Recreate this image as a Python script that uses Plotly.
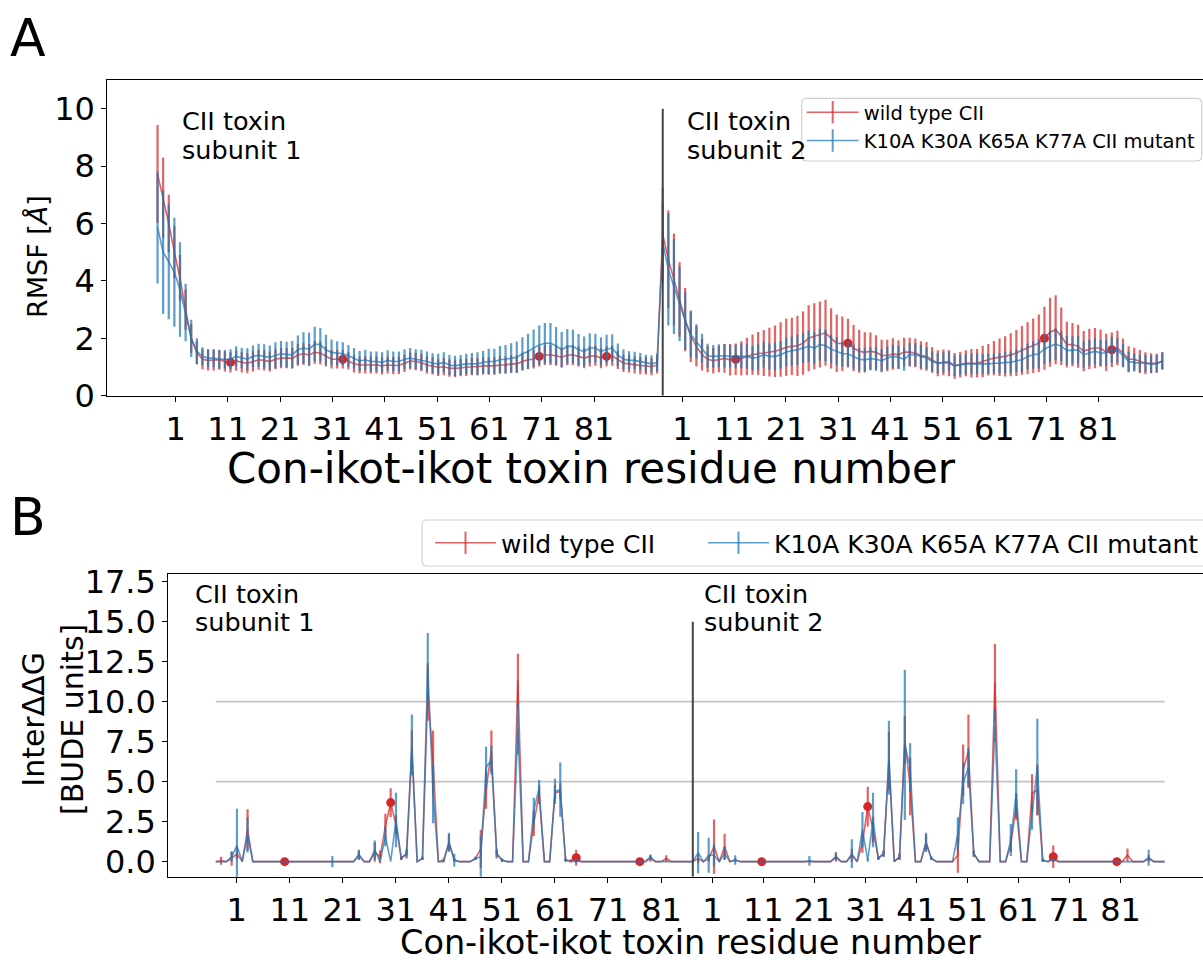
import plotly.graph_objects as go

# Residue numbering of one toxin subunit (-3 .. 86), two subunits plotted back to back
RESIDUES = list(range(-3, 87))
N_RES = len(RESIDUES)
mutation_sites = [10, 30, 65, 77]
residue_tick_labels = ["1", "11", "21", "31", "41", "51", "61", "71", "81"]

# ---------------- RMSF (A) ----------------
rmsf_wt_sub1 = [
    7.73, 6.90, 6.00, 5.00, 4.10, 3.00, 2.00, 1.50, 1.27, 1.23,
    1.23, 1.25, 1.19, 1.16, 1.22, 1.16, 1.13, 1.19, 1.25, 1.23,
    1.19, 1.27, 1.31, 1.31, 1.31, 1.42, 1.46, 1.42, 1.51, 1.49,
    1.37, 1.27, 1.27, 1.27, 1.21, 1.11, 1.07, 1.07, 1.07, 1.07,
    1.04, 1.07, 1.05, 1.06, 1.13, 1.21, 1.19, 1.15, 1.07, 1.04,
    0.99, 1.01, 0.96, 0.95, 0.98, 0.99, 1.01, 1.01, 1.04, 1.04,
    1.04, 1.07, 1.07, 1.11, 1.11, 1.19, 1.25, 1.27, 1.37, 1.42,
    1.42, 1.39, 1.34, 1.42, 1.42, 1.37, 1.31, 1.37, 1.39, 1.31,
    1.37, 1.39, 1.25, 1.13, 1.11, 1.07, 1.05, 1.04, 1.01, 1.07]
rmsf_wt_err_sub1 = [
    1.70, 1.40, 1.00, 0.90, 0.80, 0.70, 0.50, 0.40, 0.35, 0.35,
    0.35, 0.35, 0.35, 0.35, 0.35, 0.35, 0.35, 0.35, 0.35, 0.35,
    0.35, 0.35, 0.35, 0.35, 0.35, 0.38, 0.38, 0.38, 0.40, 0.40,
    0.35, 0.32, 0.32, 0.32, 0.30, 0.30, 0.30, 0.30, 0.30, 0.30,
    0.30, 0.30, 0.30, 0.30, 0.30, 0.30, 0.30, 0.30, 0.30, 0.30,
    0.30, 0.30, 0.30, 0.30, 0.30, 0.30, 0.30, 0.30, 0.30, 0.30,
    0.30, 0.30, 0.30, 0.30, 0.30, 0.30, 0.32, 0.32, 0.35, 0.35,
    0.35, 0.35, 0.35, 0.35, 0.35, 0.35, 0.35, 0.35, 0.35, 0.35,
    0.35, 0.35, 0.32, 0.30, 0.30, 0.30, 0.30, 0.30, 0.30, 0.30]
rmsf_mut_sub1 = [
    5.86, 5.00, 4.66, 4.30, 3.70, 2.90, 2.00, 1.55, 1.37, 1.31,
    1.31, 1.27, 1.27, 1.27, 1.37, 1.31, 1.27, 1.37, 1.41, 1.37,
    1.33, 1.41, 1.46, 1.43, 1.43, 1.60, 1.66, 1.62, 1.80, 1.78,
    1.60, 1.51, 1.48, 1.46, 1.39, 1.31, 1.21, 1.25, 1.19, 1.19,
    1.16, 1.23, 1.19, 1.19, 1.27, 1.31, 1.27, 1.25, 1.19, 1.13,
    1.11, 1.16, 1.07, 1.04, 1.07, 1.11, 1.11, 1.11, 1.16, 1.19,
    1.19, 1.25, 1.27, 1.31, 1.34, 1.46, 1.54, 1.66, 1.77, 1.83,
    1.83, 1.74, 1.60, 1.72, 1.72, 1.60, 1.54, 1.66, 1.66, 1.54,
    1.62, 1.66, 1.42, 1.27, 1.23, 1.23, 1.19, 1.13, 1.11, 1.16]
rmsf_mut_err_sub1 = [
    1.95, 2.15, 2.00, 1.90, 1.65, 1.00, 0.65, 0.45, 0.32, 0.32,
    0.32, 0.32, 0.32, 0.35, 0.35, 0.35, 0.38, 0.38, 0.40, 0.42,
    0.42, 0.45, 0.45, 0.45, 0.48, 0.50, 0.55, 0.58, 0.60, 0.58,
    0.52, 0.45, 0.42, 0.40, 0.38, 0.35, 0.35, 0.35, 0.35, 0.35,
    0.35, 0.35, 0.35, 0.35, 0.35, 0.35, 0.35, 0.35, 0.35, 0.35,
    0.35, 0.35, 0.35, 0.35, 0.35, 0.35, 0.38, 0.40, 0.40, 0.45,
    0.45, 0.48, 0.50, 0.52, 0.55, 0.58, 0.62, 0.65, 0.68, 0.70,
    0.70, 0.65, 0.62, 0.60, 0.58, 0.55, 0.52, 0.52, 0.50, 0.50,
    0.50, 0.48, 0.40, 0.35, 0.32, 0.30, 0.30, 0.30, 0.30, 0.30]
rmsf_wt_sub2 = [
    5.63, 4.75, 4.05, 3.35, 2.65, 2.07, 1.72, 1.43, 1.27, 1.22,
    1.27, 1.30, 1.25, 1.27, 1.30, 1.37, 1.43, 1.47, 1.49, 1.52,
    1.55, 1.61, 1.69, 1.72, 1.74, 1.83, 2.00, 2.07, 2.13, 2.19,
    2.00, 1.83, 1.81, 1.83, 1.66, 1.55, 1.51, 1.55, 1.51, 1.40,
    1.40, 1.45, 1.43, 1.52, 1.52, 1.49, 1.40, 1.37, 1.25, 1.13,
    1.16, 1.13, 1.04, 1.08, 1.13, 1.13, 1.13, 1.19, 1.25, 1.31,
    1.34, 1.37, 1.43, 1.49, 1.58, 1.66, 1.74, 1.83, 2.00, 2.21,
    2.30, 2.07, 1.78, 1.78, 1.72, 1.55, 1.63, 1.66, 1.66, 1.51,
    1.60, 1.66, 1.49, 1.27, 1.27, 1.19, 1.13, 1.13, 1.13, 1.21]
rmsf_wt_err_sub2 = [
    1.60, 1.70, 1.60, 1.30, 1.10, 0.90, 0.70, 0.55, 0.45, 0.45,
    0.45, 0.50, 0.55, 0.55, 0.60, 0.65, 0.70, 0.75, 0.80, 0.85,
    0.90, 0.95, 1.00, 1.00, 1.05, 1.10, 1.15, 1.15, 1.15, 1.15,
    1.05, 1.00, 0.95, 0.85, 0.80, 0.75, 0.70, 0.65, 0.60, 0.55,
    0.55, 0.55, 0.50, 0.50, 0.50, 0.50, 0.50, 0.50, 0.45, 0.45,
    0.45, 0.45, 0.45, 0.45, 0.45, 0.50, 0.50, 0.55, 0.55, 0.60,
    0.65, 0.70, 0.75, 0.80, 0.85, 0.90, 0.95, 1.00, 1.10, 1.20,
    1.20, 1.00, 0.80, 0.75, 0.75, 0.70, 0.70, 0.70, 0.65, 0.65,
    0.60, 0.60, 0.50, 0.45, 0.40, 0.40, 0.38, 0.35, 0.33, 0.30]
rmsf_mut_sub2 = [
    5.34, 4.40, 3.80, 3.20, 2.60, 2.13, 1.89, 1.66, 1.39, 1.37,
    1.39, 1.39, 1.37, 1.37, 1.39, 1.37, 1.31, 1.34, 1.43, 1.37,
    1.37, 1.43, 1.52, 1.55, 1.60, 1.66, 1.72, 1.66, 1.78, 1.75,
    1.62, 1.55, 1.46, 1.46, 1.37, 1.27, 1.25, 1.29, 1.27, 1.22,
    1.31, 1.37, 1.34, 1.27, 1.43, 1.43, 1.37, 1.31, 1.19, 1.13,
    1.16, 1.19, 1.04, 1.07, 1.11, 1.11, 1.11, 1.10, 1.11, 1.13,
    1.13, 1.16, 1.16, 1.22, 1.25, 1.37, 1.43, 1.46, 1.63, 1.72,
    1.80, 1.72, 1.58, 1.58, 1.60, 1.43, 1.49, 1.55, 1.49, 1.49,
    1.60, 1.58, 1.40, 1.19, 1.16, 1.13, 1.13, 1.10, 1.11, 1.21]
rmsf_mut_err_sub2 = [
    1.40, 1.95, 1.65, 1.30, 1.00, 0.80, 0.60, 0.50, 0.42, 0.40,
    0.40, 0.40, 0.40, 0.40, 0.42, 0.42, 0.42, 0.45, 0.45, 0.45,
    0.48, 0.48, 0.50, 0.50, 0.52, 0.52, 0.55, 0.55, 0.55, 0.55,
    0.50, 0.48, 0.45, 0.45, 0.42, 0.40, 0.40, 0.40, 0.40, 0.40,
    0.40, 0.40, 0.40, 0.40, 0.40, 0.40, 0.40, 0.38, 0.35, 0.35,
    0.35, 0.35, 0.35, 0.35, 0.35, 0.35, 0.35, 0.35, 0.35, 0.35,
    0.35, 0.38, 0.38, 0.40, 0.42, 0.45, 0.48, 0.50, 0.52, 0.55,
    0.55, 0.52, 0.50, 0.48, 0.48, 0.45, 0.45, 0.45, 0.45, 0.45,
    0.45, 0.42, 0.40, 0.35, 0.32, 0.30, 0.30, 0.30, 0.30, 0.30]

# ---------------- Inter ddG (B) ----------------
ddg_wt_sub1 = [
    0, 0.05, 0, 0.2, 0.5, 0, 1.98, 0, 0, 0,
    0, 0, 0, 0, 0, 0, 0, 0, 0, 0,
    0, 0, 0, 0, 0, 0, 0, 0.4, 0, 0,
    0.6, 0.3, 2.2, 3.69, 2.3, 0.2, 0.5, 7.0, 0, 0.2,
    10.6, 6.2, 0, 0.1, 1.2, 0.1, 0, 0, 0, 0.2,
    0.8, 4.5, 6.9, 0.5, 0.1, 0, 0, 11.3, 0, 0,
    2.4, 4.2, 0, 0, 4.3, 4.4, 0.1, 0.05, 0.25, 0,
    0, 0, 0, 0, 0, 0, 0, 0, 0, 0,
    0, 0, 0.2, 0, 0, 0.2, 0, 0, 0, 0]
ddg_wt_err_sub1 = [
    0, 0.25, 0, 0.45, 0.35, 0, 1.3, 0, 0, 0,
    0, 0, 0, 0, 0, 0, 0, 0, 0, 0,
    0, 0, 0, 0, 0, 0, 0, 0.3, 0, 0,
    0.6, 0.4, 0.8, 0.9, 0.6, 0.1, 0.3, 1.2, 0, 0.1,
    1.8, 2.0, 0, 0.1, 0.5, 0.1, 0, 0, 0, 0.1,
    1.2, 1.2, 1.3, 0.3, 0.1, 0, 0, 1.7, 0, 0,
    0.8, 0.6, 0, 0, 0.5, 0.5, 0.1, 0.1, 0.5, 0,
    0, 0, 0, 0, 0, 0, 0, 0, 0, 0,
    0, 0, 0.2, 0, 0, 0.2, 0, 0, 0, 0]
ddg_mut_sub1 = [
    0, 0, 0, 0.3, 1.0, 0, 1.67, 0, 0, 0,
    0, 0, 0, 0, 0, 0, 0, 0, 0, 0,
    0, 0, 0, 0, 0, 0, 0, 0.45, 0, 0,
    0.73, 0, 1.56, 0, 2.6, 0.2, 0.5, 7.3, 0, 0.2,
    12.2, 4.2, 0, 0, 1.2, 0.1, 0, 0, 0, 0.2,
    0.3, 5.9, 6.35, 0.5, 0.1, 0, 0, 8.3, 0, 0,
    3.2, 4.6, 0, 0, 4.4, 4.5, 0.1, 0, 0.05, 0,
    0, 0, 0, 0, 0, 0, 0, 0, 0, 0,
    0, 0, 0.3, 0, 0, 0, 0, 0, 0, 0]
ddg_mut_err_sub1 = [
    0, 0, 0, 0.3, 2.3, 0, 1.1, 0, 0, 0,
    0, 0, 0, 0, 0, 0, 0, 0, 0, 0,
    0, 0, 0.35, 0, 0, 0, 0, 0.3, 0, 0,
    0.6, 0, 0.6, 0, 1.7, 0.1, 0.2, 1.9, 0, 0.1,
    2.1, 1.8, 0, 0, 0.6, 0.4, 0, 0, 0, 0.1,
    1.3, 1.3, 0.9, 0.2, 0.1, 0, 0, 1.6, 0, 0,
    0.8, 0.5, 0, 0, 0.8, 1.7, 0.1, 0, 0.1, 0,
    0, 0, 0, 0, 0, 0, 0, 0, 0, 0,
    0, 0, 0.15, 0, 0, 0, 0, 0, 0, 0]
ddg_wt_sub2 = [
    0, 0.2, 0, 0.2, 0.94, 0, 0.94, 0, 0.1, 0,
    0, 0, 0, 0, 0, 0, 0, 0, 0, 0,
    0, 0, 0, 0, 0, 0, 0, 0.3, 0, 0,
    0.4, 0, 1.15, 3.44, 2.0, 0.2, 0.5, 6.3, 0, 0.3,
    7.6, 4.7, 0, 0, 1.2, 0.2, 0, 0, 0, 0,
    0.4, 5.73, 6.9, 0.5, 0, 0, 0, 11.2, 0, 0,
    1.1, 3.44, 0, 0, 4.27, 4.48, 0.1, 0, 0.31, 0,
    0, 0, 0, 0, 0, 0, 0, 0, 0, 0,
    0, 0, 0.42, 0, 0, 0, 0.2, 0, 0, 0]
ddg_wt_err_sub2 = [
    0, 0.3, 0, 0.2, 1.7, 0, 0.8, 0, 0.1, 0,
    0, 0, 0, 0, 0, 0, 0, 0, 0, 0,
    0, 0, 0, 0, 0, 0, 0, 0.3, 0, 0,
    0.4, 0, 0.6, 1.25, 0.8, 0.1, 0.2, 1.8, 0, 0.2,
    1.5, 1.8, 0, 0, 0.5, 0.1, 0, 0, 0, 0,
    1.1, 1.6, 2.3, 0.2, 0, 0, 0, 2.4, 0, 0,
    0.5, 0.8, 0, 0, 1.2, 1.6, 0.1, 0, 0.7, 0,
    0, 0, 0, 0, 0, 0, 0, 0, 0, 0,
    0, 0, 0.4, 0, 0, 0, 0.2, 0, 0, 0]
ddg_mut_sub2 = [
    0, 0.56, 0, 0.4, 0.4, 0, 0.5, 0, 0.1, 0,
    0, 0, 0, 0, 0, 0, 0, 0, 0, 0,
    0, 0, 0.05, 0, 0, 0, 0, 0.3, 0, 0,
    0.5, 0, 2.0, 0.1, 2.6, 0.2, 0.5, 6.5, 0, 0.3,
    7.3, 5.9, 0, 0, 1.2, 0.2, 0, 0, 0, 0,
    1.77, 4.9, 5.9, 0.5, 0, 0, 0, 8.5, 0, 0,
    1.35, 4.27, 0, 0, 2.8, 5.94, 0.1, 0, 0.1, 0,
    0, 0, 0, 0, 0, 0, 0, 0, 0, 0,
    0, 0, 0, 0, 0, 0, 0.25, 0, 0, 0]
ddg_mut_err_sub2 = [
    0, 1.3, 0, 1.1, 0.7, 0, 0.4, 0, 0.3, 0,
    0, 0, 0, 0, 0, 0, 0, 0, 0, 0,
    0, 0, 0.3, 0, 0, 0, 0, 0.2, 0, 0,
    0.9, 0, 1.1, 0.1, 1.7, 0.1, 0.2, 2.3, 0, 0.2,
    4.7, 1.5, 0, 0, 0.6, 0.1, 0, 0, 0, 0,
    1.0, 1.3, 1.2, 0.2, 0, 0, 0, 1.0, 0, 0,
    1.0, 1.5, 0, 0, 0.8, 3.0, 0.1, 0, 0.1, 0,
    0, 0, 0, 0, 0, 0, 0, 0, 0, 0,
    0, 0, 0, 0, 0, 0, 0.5, 0, 0, 0]

# ---------------- styling ----------------
W, H = 1203, 964
FONT = "DejaVu Sans"
RED = "rgba(214,39,40,0.72)"
BLUE = "rgba(31,119,180,0.72)"
DOT = "#d62728"
WT_NAME = "wild type CII"
MUT_NAME = "K10A K30A K65A K77A CII mutant"


def px_x(p):
    return p / W


def px_y(p):
    return 1 - p / H


def positions(subunit):
    return [r - RESIDUES[0] + N_RES * subunit for r in RESIDUES]


x_all = positions(0) + positions(1)
boundary = N_RES  # first position of subunit 2

fig = go.Figure()


def add_panel(xa, ya, wt, wt_err, mut, mut_err, legends):
    fig.add_trace(go.Scatter(
        x=x_all, y=wt, mode="lines", xaxis=xa, yaxis=ya, showlegend=False,
        line=dict(color=RED, width=1.6),
        error_y=dict(type="data", array=wt_err, color=RED, thickness=2.2, width=0)))
    site_x, site_y = [], []
    for s in (0, 1):
        for r in mutation_sites:
            p = r - RESIDUES[0] + N_RES * s
            site_x.append(p)
            site_y.append(wt[p])
    fig.add_trace(go.Scatter(
        x=site_x, y=site_y, mode="markers", xaxis=xa, yaxis=ya, showlegend=False,
        marker=dict(color=DOT, size=9)))
    fig.add_trace(go.Scatter(
        x=x_all, y=mut, mode="lines", xaxis=xa, yaxis=ya, showlegend=False,
        line=dict(color=BLUE, width=1.6),
        error_y=dict(type="data", array=mut_err, color=BLUE, thickness=2.2, width=0)))
    for (name, col), lg in zip(((WT_NAME, RED), (MUT_NAME, BLUE)), legends):
        fig.add_trace(go.Scatter(
            x=[None], y=[None], mode="lines+markers", name=name, xaxis=xa, yaxis=ya,
            legend=lg, line=dict(color=col, width=1.6),
            marker=dict(symbol="line-ns", size=22, line=dict(color=col, width=2))))


add_panel("x", "y",
          rmsf_wt_sub1 + rmsf_wt_sub2, rmsf_wt_err_sub1 + rmsf_wt_err_sub2,
          rmsf_mut_sub1 + rmsf_mut_sub2, rmsf_mut_err_sub1 + rmsf_mut_err_sub2,
          ("legend", "legend"))
add_panel("x2", "y2",
          ddg_wt_sub1 + ddg_wt_sub2, ddg_wt_err_sub1 + ddg_wt_err_sub2,
          ddg_mut_sub1 + ddg_mut_sub2, ddg_mut_err_sub1 + ddg_mut_err_sub2,
          ("legend2", "legend3"))

# tick positions along the concatenated residue axis
ticks_a = [3.24, 12.50, 21.82, 31.14, 40.47, 49.79, 59.11, 68.44, 77.76,
           93.49, 102.75, 111.96, 121.28, 130.54, 139.81, 149.07, 158.34, 167.60]
ticks_b = [3.96, 13.96, 23.96, 33.96, 43.96, 53.96, 64.0, 74.0, 84.1,
           93.7, 103.3, 112.9, 122.6, 132.2, 141.8, 151.4, 161.0, 170.7]
tick_text = residue_tick_labels + residue_tick_labels

X_RANGE = [-8.95, 186.25]
TICK_FONT = dict(family=FONT, size=32, color="black")
axis_common = dict(showline=True, linecolor="black", linewidth=1, ticks="outside",
                   ticklen=5, tickwidth=1, tickcolor="black", showgrid=False,
                   zeroline=False, tickfont=TICK_FONT, automargin=False)
legend_common = dict(bgcolor="rgba(0,0,0,0)", borderwidth=0, tracegroupgap=0)

fig.update_layout(
    width=W, height=H,
    margin=dict(l=0, r=0, t=0, b=0, autoexpand=False),
    paper_bgcolor="white", plot_bgcolor="white",
    font=dict(family=FONT, color="black"),
    xaxis=dict(domain=[px_x(107.3), 1], anchor="y", range=X_RANGE, mirror=True,
               tickmode="array", tickvals=ticks_a, ticktext=tick_text, **axis_common),
    yaxis=dict(domain=[px_y(395.7), px_y(80)], anchor="x", range=[0, 11],
               tickmode="array", tickvals=[0, 2, 4, 6, 8, 10], **axis_common),
    xaxis2=dict(domain=[px_x(168.3), 1], anchor="y2", range=X_RANGE, mirror=True,
                tickmode="array", tickvals=ticks_b, ticktext=tick_text, **axis_common),
    yaxis2=dict(domain=[px_y(876.7), px_y(574)], anchor="x2", range=[-0.94, 17.98],
                tickmode="array", tickvals=[0, 2.5, 5, 7.5, 10, 12.5, 15, 17.5],
                ticktext=["0.0", "2.5", "5.0", "7.5", "10.0", "12.5", "15.0", "17.5"],
                **axis_common),
    legend=dict(x=px_x(801.7), y=px_y(93), xanchor="left", yanchor="top",
                font=dict(family=FONT, size=19.5), itemwidth=52, **legend_common),
    legend2=dict(x=px_x(430), y=px_y(543), xanchor="left", yanchor="middle",
                 font=dict(family=FONT, size=25), itemwidth=61, **legend_common),
    legend3=dict(x=px_x(703), y=px_y(543), xanchor="left", yanchor="middle",
                 font=dict(family=FONT, size=25), itemwidth=61, **legend_common),
    showlegend=True,
)


def rounded_box(x0, y0, x1, y1, r=5):
    """Rounded rectangle path in paper units from pixel corners (top-left, bottom-right)."""
    rx, ry = r / W, r / H
    a, b, c, d = px_x(x0), px_y(y1), px_x(x1), px_y(y0)
    return (f"M {a + rx},{b} L {c - rx},{b} Q {c},{b} {c},{b + ry} "
            f"L {c},{d - ry} Q {c},{d} {c - rx},{d} L {a + rx},{d} "
            f"Q {a},{d} {a},{d - ry} L {a},{b + ry} Q {a},{b} {a + rx},{b} Z")


# legend frames
fig.add_shape(type="path", xref="paper", yref="paper", layer="above",
              path=rounded_box(801.7, 98.3, 1201.7, 161),
              line=dict(color="#d0d0d0", width=1.2), fillcolor="rgba(255,255,255,0.85)")
fig.add_shape(type="path", xref="paper", yref="paper", layer="above",
              path=rounded_box(422, 520, 1225, 566),
              line=dict(color="#d0d0d0", width=1.2), fillcolor="rgba(255,255,255,0.85)")

# reference lines
fig.add_shape(type="line", xref="x", yref="y", x0=boundary, x1=boundary, y0=0, y1=10,
              line=dict(color="#444444", width=2))
fig.add_shape(type="line", xref="x2", yref="y2", x0=boundary, x1=boundary,
              y0=-0.94, y1=15, line=dict(color="#444444", width=2))
for level in (5, 10):
    fig.add_shape(type="line", xref="x2", yref="y2", x0=x_all[0], x1=x_all[-1],
                  y0=level, y1=level, layer="below",
                  line=dict(color="#c4c4c4", width=1.6))


def note(text, x, y, size, xanchor="left", yanchor="middle", angle=0, align="left"):
    fig.add_annotation(text=text, x=px_x(x), y=px_y(y), xref="paper", yref="paper",
                       xanchor=xanchor, yanchor=yanchor, textangle=angle, align=align,
                       showarrow=False, font=dict(family=FONT, size=size, color="black"))


note("A", 8, 38, 52)
note("B", 8, 517, 52)
for x_left, y_first in ((180, 121), (685, 121), (193, 593.5), (702, 593.5)):
    sub = "1" if x_left < 400 else "2"
    note("CII toxin", x_left, y_first, 25.5)
    note("subunit " + sub, x_left, y_first + 28.5, 25.5)
note("RMSF [<i>Å</i>]", 38, 257, 27, xanchor="center", angle=-90, align="center")
note("InterΔΔG<br>[BUDE units]", 53, 720, 30, xanchor="center", angle=-90, align="center")
note("Con-ikot-ikot toxin residue number", 591, 468, 42, xanchor="center", align="center")
note("Con-ikot-ikot toxin residue number", 690, 942, 33.5, xanchor="center", align="center")

fig.write_html("out.html")
